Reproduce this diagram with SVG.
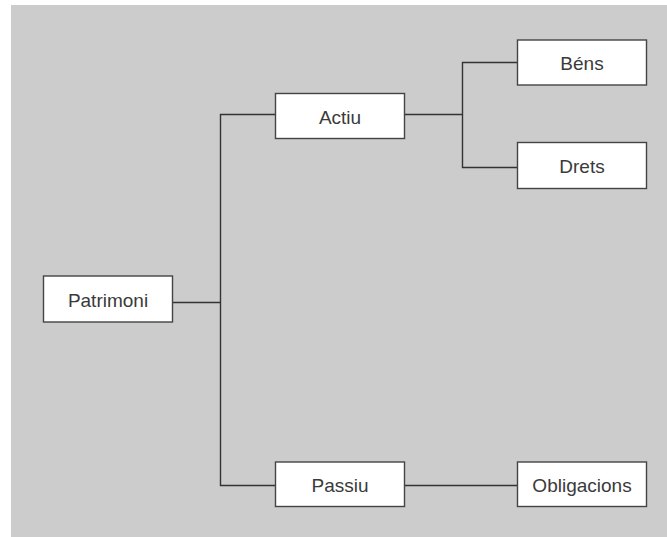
<svg xmlns="http://www.w3.org/2000/svg" width="667" height="537" viewBox="0 0 667 537">
  <style>
    .box { fill: #ffffff; stroke: #444444; stroke-width: 1.4; }
    .lbl { font-family: "Liberation Sans", Arial, sans-serif; font-size: 19px; fill: #3a3a3a; text-anchor: middle; dominant-baseline: central; }
    .wire { fill: none; stroke: #333333; stroke-width: 1.4; }
  </style>
  <rect x="11" y="5" width="656" height="532" fill="#cccccc"/>

  <!-- connectors -->
  <g id="connectors">
    <path class="wire" d="M172.5 302.5 H220.5"/>
    <path class="wire" d="M275.5 114.5 H220.5 V485.5 H275.5"/>
    <path class="wire" d="M404.5 114.5 H462.5"/>
    <path class="wire" d="M517.5 62.5 H462.5 V167.5 H517.5"/>
    <path class="wire" d="M404.5 485.5 H517.5"/>
  </g>

  <g id="patrimoni">
    <rect class="box" x="43.5" y="276" width="129" height="46"/>
    <text class="lbl" x="108" y="300">Patrimoni</text>
  </g>
  <g id="actiu">
    <rect class="box" x="275.5" y="93.5" width="129" height="45"/>
    <text class="lbl" x="340" y="117">Actiu</text>
  </g>
  <g id="passiu">
    <rect class="box" x="275.5" y="462" width="129" height="44.5"/>
    <text class="lbl" x="340" y="485">Passiu</text>
  </g>
  <g id="bens">
    <rect class="box" x="517.5" y="40" width="129" height="45"/>
    <text class="lbl" x="582" y="63">Béns</text>
  </g>
  <g id="drets">
    <rect class="box" x="517.5" y="142.5" width="129" height="46"/>
    <text class="lbl" x="582" y="166">Drets</text>
  </g>
  <g id="obligacions">
    <rect class="box" x="517.5" y="462" width="129" height="44.5"/>
    <text class="lbl" x="582" y="485">Obligacions</text>
  </g>
</svg>
